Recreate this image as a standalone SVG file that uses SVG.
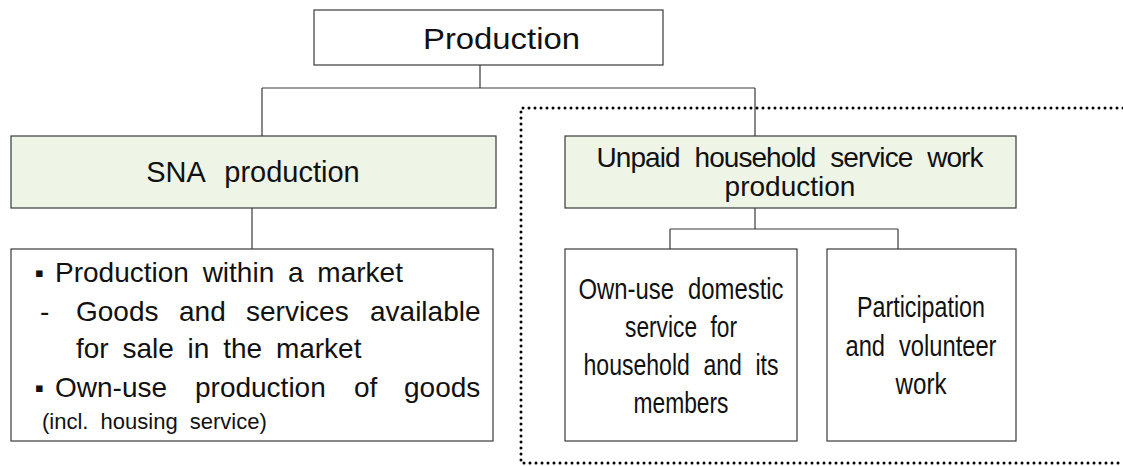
<svg xmlns="http://www.w3.org/2000/svg" width="1123" height="466" viewBox="0 0 1123 466">
<style>
.box{fill:#ffffff;stroke:#3a3a3a;stroke-width:1.2}
.green{fill:#eef4e6;stroke:#3a3a3a;stroke-width:1.2}
.t{font-family:"Liberation Sans",Arial,sans-serif;font-size:28px;fill:#111}
.c{text-anchor:middle}
.ws{word-spacing:6px}
.bul{font-family:"DejaVu Sans",sans-serif;font-size:13px}
.n{font-size:29px;word-spacing:9px}
.conn{fill:none;stroke:#3a3a3a;stroke-width:1.2}
.dots{fill:none;stroke:#000;stroke-width:3;stroke-linecap:round;stroke-dasharray:0 6}
</style>
<rect width="1123" height="466" fill="#ffffff"/>
<g id="connectors">
<path class="conn" d="M480 65 V88 M262 88 H755 M262 88 V136 M755 88 V136"/>
<path class="conn" d="M252 208 V249"/>
<path class="conn" d="M755 208 V229 M670 229 H898 M670 229 V249 M898 229 V249"/>
</g>
<g id="unpaid-region">
<path class="dots" d="M1123 108 H521 V463 H1123"/>
</g>
<g id="production">
<rect class="box" x="314" y="10" width="349" height="55"/>
<text class="t" x="423" y="49" style="font-size:29px" textLength="157" lengthAdjust="spacingAndGlyphs">Production</text>
</g>
<g id="sna">
<rect class="green" x="11" y="136" width="485" height="72"/>
<text class="t c" x="253" y="182" style="font-size:29px;word-spacing:12px">SNA production</text>
</g>
<g id="sna-detail">
<rect class="box" x="11" y="249" width="482" height="192"/>
<text class="t ws" y="282"><tspan class="bul" x="35" dy="-5">▪</tspan><tspan x="55" dy="5">Production within a market</tspan></text>
<text class="t" y="321"><tspan x="40">-</tspan><tspan x="76">Goods</tspan><tspan x="179">and</tspan><tspan x="246">services</tspan><tspan x="370">available</tspan></text>
<text class="t ws" x="76" y="358">for sale in the market</text>
<text class="t" y="397"><tspan class="bul" x="35" dy="-5">▪</tspan><tspan x="55" dy="5">Own-use</tspan><tspan x="195">production</tspan><tspan x="354">of</tspan><tspan x="404">goods</tspan></text>
<text class="t" x="42" y="429" style="font-size:22px;word-spacing:6px">(incl. housing service)</text>
</g>
<g id="unpaid">
<rect class="green" x="565" y="136" width="451" height="72"/>
<text class="t c" x="790" y="167" textLength="387" lengthAdjust="spacing" style="word-spacing:8px">Unpaid household service work</text>
<text class="t c" x="790" y="196">production</text>
</g>
<g id="own-use-domestic">
<rect class="box" x="565" y="249" width="232" height="192"/>
<text class="t c n" x="681" y="299" textLength="205" lengthAdjust="spacingAndGlyphs">Own-use domestic</text>
<text class="t c n" x="681" y="337" textLength="112" lengthAdjust="spacingAndGlyphs">service for</text>
<text class="t c n" x="681" y="375" textLength="195" lengthAdjust="spacingAndGlyphs">household and its</text>
<text class="t c n" x="681" y="413" textLength="95" lengthAdjust="spacingAndGlyphs">members</text>
</g>
<g id="participation">
<rect class="box" x="827" y="249" width="189" height="192"/>
<text class="t c n" x="921" y="317" textLength="128" lengthAdjust="spacingAndGlyphs">Participation</text>
<text class="t c n" x="921" y="356" textLength="151" lengthAdjust="spacingAndGlyphs">and volunteer</text>
<text class="t c n" x="921" y="394" textLength="51" lengthAdjust="spacingAndGlyphs">work</text>
</g>
</svg>
